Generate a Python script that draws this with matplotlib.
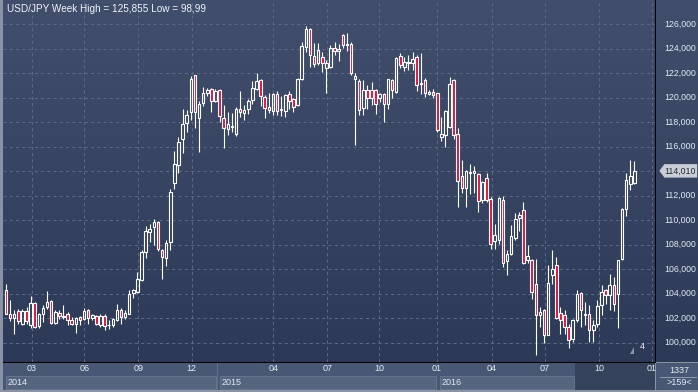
import numpy as np
import matplotlib
matplotlib.use("Agg")
import matplotlib.pyplot as plt
from matplotlib.patches import Rectangle, Polygon

# weekly USD/JPY candles
opens = [104.27, 102.30, 102.03, 102.55, 101.53, 102.55, 101.45, 103.20, 101.35, 102.30,
         102.90, 103.37, 101.60, 102.44, 102.10, 102.30, 101.86, 101.53, 102.05, 101.90,
         102.63, 102.00, 102.20, 101.40, 102.14, 101.40, 101.40, 101.80, 102.63, 102.08,
         102.36, 104.05, 104.14,
         105.14, 107.35, 109.00, 109.40, 109.85, 107.54, 106.92, 108.20, 112.98, 114.53,
         116.65, 117.88, 118.83, 121.82, 118.29, 119.57, 120.38, 120.68, 119.73, 120.60,
         118.29, 117.44, 117.60, 117.06, 119.10, 118.70, 119.10, 119.78, 120.68, 121.40,
         120.05, 119.24, 118.90, 120.27, 119.00, 118.91, 120.27, 119.86, 119.37, 121.55,
         124.14, 125.63, 123.37, 122.78, 123.27, 122.37,
         122.50, 124.08, 123.80, 125.09, 124.27, 124.35, 121.52, 121.33, 119.16, 120.65,
         120.60, 120.60, 120.00, 120.27, 119.43, 121.40, 120.46, 123.37, 122.50, 122.78,
         122.78, 123.32, 121.10, 121.40, 120.27, 120.46, 120.33, 116.80, 116.90, 117.60,
         121.41, 117.00, 113.58, 112.65, 113.82, 113.87, 113.74, 111.60, 113.40,
         111.74, 108.26, 108.40, 111.60, 106.65, 107.25, 108.56, 110.16, 110.79, 106.70,
         106.76, 104.80, 102.27, 102.63, 100.64, 105.48, 106.35, 102.40, 102.22, 101.27,
         100.31, 101.86, 104.04, 102.22, 102.30, 101.00, 101.48, 103.03, 104.26, 103.85,
         104.67, 103.93, 106.84, 110.93, 112.91, 113.02]
closes = [102.36, 102.03, 102.30, 101.75, 102.55, 101.75, 103.26, 101.26, 102.30, 102.85,
          103.30, 101.60, 102.50, 102.16, 102.20, 101.80, 101.53, 102.00, 101.80, 102.58,
          102.00, 102.22, 101.48, 102.16, 101.35, 101.45, 101.90, 102.63, 102.08, 102.40,
          104.00, 104.27, 105.15,
          107.40, 109.10, 109.30, 109.80, 107.67, 106.94, 108.16, 112.30, 114.60, 116.33,
          117.82, 118.60, 121.47, 118.78, 119.50, 120.33, 120.65, 119.73, 120.54, 118.50,
          117.52, 117.82, 117.70, 119.10, 118.78, 119.00, 119.70, 120.80, 121.36, 120.10,
          119.18, 118.97, 120.27, 118.90, 119.08, 120.19, 119.73, 119.24, 121.55, 124.19,
          125.63, 123.46, 122.72, 123.86, 122.83, 122.83,
          124.08, 123.80, 123.92, 124.27, 124.35, 122.00, 121.74, 119.00, 120.60, 120.00,
          119.92, 119.50, 120.27, 119.43, 121.47, 120.65, 123.24, 122.64, 122.86, 122.86,
          123.13, 121.00, 121.20, 120.33, 120.46, 120.19, 117.33, 117.00, 118.90, 121.14,
          116.90, 113.20, 112.65, 114.00, 113.93, 114.00, 111.56, 113.10, 111.67,
          108.07, 108.80, 111.80, 106.50, 107.20, 108.67, 110.10, 110.38, 106.49, 107.03,
          104.12, 102.22, 102.49, 100.58, 104.86, 106.03, 102.00, 101.86, 101.27, 100.23,
          101.86, 103.99, 102.68, 102.35, 101.05, 101.40, 102.95, 104.12, 103.85, 104.67,
          103.17, 106.70, 110.93, 113.24, 113.57, 114.01]
highs = [104.80, 103.45, 102.63, 102.77, 102.77, 102.90, 103.78, 103.30, 102.40, 103.10,
         104.20, 103.45, 102.63, 102.63, 103.04, 102.50, 102.08, 102.08, 102.14, 102.85,
         102.77, 102.36, 102.27, 102.30, 102.30, 101.80, 102.00, 103.18, 102.85, 102.63,
         104.27, 104.40, 105.78,
         107.54, 109.50, 109.66, 110.10, 109.90, 107.65, 108.40, 112.50, 115.60, 116.80,
         119.05, 119.00, 121.74, 121.85, 119.73, 120.87, 120.80, 120.76, 120.73, 120.68,
         119.37, 118.83, 118.70, 119.24, 120.54, 119.37, 119.90, 121.33, 122.04, 121.55,
         120.19, 120.40, 120.40, 120.54, 120.10, 120.27, 120.52, 120.00, 121.60, 124.49,
         125.86, 125.71, 124.46, 124.46, 123.73, 123.05,
         124.27, 124.50, 124.40, 125.22, 125.30, 124.54, 121.96, 121.47, 121.40, 121.00,
         121.30, 120.68, 120.40, 120.33, 121.55, 121.55, 123.32, 123.65, 123.32, 123.46,
         123.73, 123.46, 123.60, 121.63, 120.65, 120.73, 120.38, 118.42, 118.97, 121.70,
         121.55, 117.55, 114.90, 114.07, 114.56, 114.42, 113.80, 113.20, 113.87,
         111.88, 109.70, 111.88, 111.93, 107.52, 109.56, 110.57, 110.65, 111.47, 107.93,
         106.84, 106.84, 102.90, 102.76, 106.35, 107.52, 106.98, 102.90, 102.68, 101.54,
         101.95, 104.26, 104.12, 103.30, 103.03, 101.80, 103.50, 104.67, 104.40, 105.56,
         105.35, 106.76, 111.00, 113.84, 114.87, 114.80]
lows = [102.30, 101.75, 100.70, 101.53, 101.40, 101.55, 101.20, 101.20, 101.20, 101.67,
        102.77, 101.50, 101.50, 101.95, 101.95, 101.45, 101.40, 100.80, 101.45, 101.80,
        101.53, 101.80, 101.40, 101.26, 101.04, 101.10, 101.26, 101.75, 101.53, 101.95,
        102.30, 103.60, 104.05,
        105.03, 106.86, 108.20, 107.94, 107.48, 105.20, 106.23, 107.54, 112.57, 113.85,
        115.50, 117.20, 118.15, 117.47, 115.56, 119.30, 120.10, 118.83, 119.65, 118.00,
        115.84, 116.90, 117.20, 116.84, 118.37, 118.15, 118.64, 119.46, 120.60, 119.30,
        118.34, 118.70, 118.56, 118.56, 118.48, 118.42, 119.10, 118.83, 119.30, 121.41,
        123.73, 122.45, 122.45, 122.64, 122.10, 120.38,
        122.37, 123.46, 122.99, 124.08, 123.80, 121.82, 116.10, 118.56, 118.60, 119.10,
        119.37, 118.64, 119.65, 118.00, 119.10, 119.92, 120.38, 122.37, 122.18, 122.23,
        122.23, 120.54, 120.27, 120.05, 120.19, 120.00, 117.20, 116.46, 115.97, 117.55,
        116.65, 111.10, 112.22, 111.10, 112.10, 112.22, 110.67, 111.35, 111.48,
        107.66, 107.66, 108.07, 106.20, 105.48, 107.17, 108.34, 109.07, 106.43, 106.49,
        103.52, 98.99, 101.26, 99.96, 100.58, 104.80, 101.94, 100.72, 100.67, 99.58,
        100.04, 101.67, 101.26, 101.40, 100.04, 100.04, 101.27, 102.22, 103.17, 102.68,
        102.54, 101.20, 106.70, 110.30, 112.48, 112.97]

price_ticks = [100, 102, 104, 106, 108, 110, 112, 114, 116, 118, 120, 122, 124, 126]
# bar index where each labelled month starts on this chart
month_idx = [6.3, 19.1, 32.2, 45.2, 65.1, 78.2, 90.8, 104.9, 118.3, 131.2, 144.5, 157.2]
month_labels = ["03", "06", "09", "12", "04", "07", "10", "01", "04", "07", "10", "01"]
year_idx = [-0.7, 51.3, 104.9]
year_labels = ["2014", "2015", "2016"]
last_close = closes[-1]

W, H = 698, 392
fig = plt.figure(figsize=(W / 100, H / 100), dpi=100)
fig.patch.set_facecolor("#8a93a3")

def px_to_fig(x0, y0, x1, y1):
    return [x0 / W, 1 - y1 / H, (x1 - x0) / W, (y1 - y0) / H]

# pixel <-> data mapping of the main panel
px_left, px_right, px_top, px_bot = 3, 655, 0, 362
step = 4.107
x_first = 6.0
xmin = (px_left - x_first) / step
xmax = (px_right - x_first) / step
ppy = 12.25
ymax = 100 + (342.5 - px_top) / ppy
ymin = 100 + (342.5 - px_bot) / ppy

grad = np.linspace(0, 1, 256).reshape(-1, 1)
cmap = matplotlib.colors.LinearSegmentedColormap.from_list("bg", ["#414f6c", "#2c3a57"])

ax = fig.add_axes(px_to_fig(px_left, px_top, px_right, px_bot))
ax.imshow(grad, aspect="auto", cmap=cmap, extent=[xmin, xmax, ymin, ymax], zorder=0)
ax.set_xlim(xmin, xmax)
ax.set_ylim(ymin, ymax)
ax.set_xticks([])
ax.set_yticks([])
for s in ax.spines.values():
    s.set_visible(False)
ax.spines["right"].set_visible(True)
ax.spines["right"].set_color("black")
ax.spines["bottom"].set_visible(True)
ax.spines["bottom"].set_color("black")

gcol = "#5a6987"
for p in price_ticks:
    ax.axhline(p, color=gcol, lw=0.75, ls=(0, (3, 3)), zorder=1)
for m in month_idx:
    ax.axvline(m, color=gcol, lw=0.75, ls=(0, (3, 3)), zorder=1)

# candles
xs = np.arange(len(opens))
bw = 0.62
for i in xs:
    o, c, h, l = opens[i], closes[i], highs[i], lows[i]
    top, bot = max(o, c), min(o, c)
    ax.plot([i, i], [top, h], color="white", lw=0.8, zorder=3, solid_capstyle="butt")
    ax.plot([i, i], [l, bot], color="white", lw=0.8, zorder=3, solid_capstyle="butt")
    fc = "#e0103c" if c < o else "none"
    ax.add_patch(Rectangle((i - bw / 2, bot), bw, max(top - bot, 0.04),
                           facecolor=fc, edgecolor="white", lw=0.8, zorder=4))

ax.text(0.006, 0.988, "USD/JPY Week High = 125,855 Low = 98,99", transform=ax.transAxes,
        ha="left", va="top", color="#f0f4f8", fontsize=7.2, family="Liberation Sans", zorder=6)
ax.text(0.984, 0.03, "4", transform=ax.transAxes, ha="right", va="bottom",
        color="#e6ecf4", fontsize=6.5, family="Liberation Sans", zorder=6)
ax.add_patch(Polygon([[151.9, 99.1], [153.0, 99.1], [153.0, 99.6]], closed=True,
                     facecolor="#8a96aa", edgecolor="none", zorder=6))

# right price axis
rax = fig.add_axes(px_to_fig(px_right + 1, px_top, W, px_bot))
rax.imshow(grad, aspect="auto", cmap=cmap, extent=[0, 1, ymin, ymax], zorder=0)
rax.set_xlim(0, 1)
rax.set_ylim(ymin, ymax)
rax.axis("off")
for p in price_ticks:
    rax.text(0.2, p, f"{p},000", ha="left", va="center", color="#e3eaf4",
             fontsize=6.3, family="Liberation Sans")
# last price tag
tag = Polygon([[0.08, last_close], [0.2, last_close + 0.55], [0.98, last_close + 0.55],
               [0.98, last_close - 0.55], [0.2, last_close - 0.55]],
              closed=True, facecolor="#c9ced6", edgecolor="none", zorder=2)
rax.add_patch(tag)
rax.text(0.2, last_close, "114,010", ha="left", va="center", color="#1e2430",
         fontsize=6.3, family="Liberation Sans", zorder=3)

# bottom time axis
bax = fig.add_axes(px_to_fig(px_left, px_bot + 1, px_right, H - 2))
bax.set_xlim(xmin, xmax)
bax.set_ylim(0, 1)
bax.set_facecolor("#485874")
bax.set_xticks([])
bax.set_yticks([])
for s in bax.spines.values():
    s.set_visible(False)
for m, lab in zip(month_idx, month_labels):
    bax.text(m, 0.78, lab, ha="center", va="center", color="#e3eaf4",
             fontsize=6.5, family="Liberation Sans")
year_ends = year_idx[1:] + [(575 - x_first) / step]
for (a, b), lab in zip(zip(year_idx, year_ends), year_labels):
    bax.add_patch(Rectangle((a + 0.7, 0.03), b - a - 0.9, 0.5, facecolor="#56657f",
                            edgecolor="#6a7891", lw=0.6))
    bax.text(a + 1.2, 0.28, lab, ha="left", va="center", color="#e3eaf4",
             fontsize=6.5, family="Liberation Sans")
bax.axvline(year_idx[1], color="#5e6d8c", lw=0.8)
# darker scroller region on the right
bax.add_patch(Rectangle(((575 - x_first) / step, 0), xmax, 1, facecolor="#24304a",
                        alpha=0.55, edgecolor="none"))

# corner box
cax = fig.add_axes(px_to_fig(px_right + 1, px_bot + 1, W, H - 2))
cax.set_facecolor("#485874")
cax.set_xticks([])
cax.set_yticks([])
for s in cax.spines.values():
    s.set_visible(False)
cax.text(0.55, 0.72, "1337", ha="center", va="center", color="#e3eaf4",
         fontsize=6.5, family="Liberation Sans", transform=cax.transAxes)
cax.plot([0.1, 0.95], [0.5, 0.5], color="#9aa6b8", lw=0.6, transform=cax.transAxes)
cax.text(0.55, 0.27, ">159<", ha="center", va="center", color="#e3eaf4",
         fontsize=6.5, family="Liberation Sans", transform=cax.transAxes)

fig.savefig("out.png", dpi=100, facecolor=fig.get_facecolor())
